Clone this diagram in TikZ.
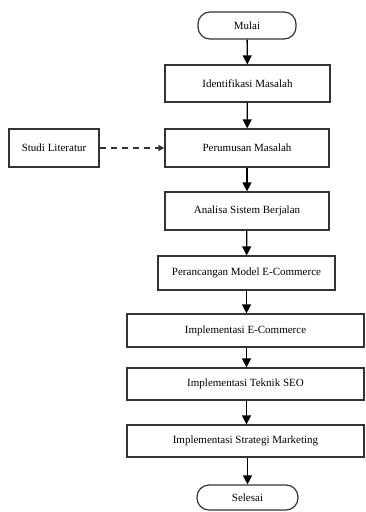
\documentclass[tikz,border=0pt]{standalone}
\usepackage{fontspec}
\setmainfont{Liberation Serif}
\usetikzlibrary{arrows.meta}
\begin{document}
\begin{tikzpicture}[x=1pt,y=-1pt,
  proc/.style={draw=black!80, line width=1.2pt, rectangle, inner sep=0pt, font=\fontsize{11pt}{13pt}\selectfont},
  term/.style={proc, rounded corners=12pt},
  flow/.style={draw=black, line width=1.3pt, -{Triangle[length=9pt,width=9pt]}},
  dflow/.style={draw=black!80, line width=1.2pt, dash pattern=on 6pt off 5pt, -{Triangle[length=6pt,width=6pt]}}]
\useasboundingbox (0,0) rectangle (366,512);
\node[term, minimum width=98pt, minimum height=27pt] (mulai) at (247,25.5) {Mulai};
\node[proc, minimum width=165pt, minimum height=37pt] (ident) at (247.5,83.5) {Identifikasi Masalah};
\node[proc, minimum width=164pt, minimum height=38pt] (rumus) at (247,148) {Perumusan Masalah};
\node[proc, minimum width=90pt, minimum height=38pt] (studi) at (54,148) {Studi Literatur};
\node[proc, minimum width=164pt, minimum height=38pt] (analisa) at (247,211) {Analisa Sistem Berjalan};
\node[proc, minimum width=177pt, minimum height=34pt] (rancang) at (246.5,273) {Perancangan Model E-Commerce};
\node[proc, minimum width=237pt, minimum height=33pt] (implec) at (245.5,330.5) {Implementasi E-Commerce};
\node[proc, minimum width=237pt, minimum height=32pt] (seo) at (245.5,384) {Implementasi Teknik SEO};
\node[proc, minimum width=237pt, minimum height=32pt] (mkt) at (245.5,441) {Implementasi Strategi Marketing};
\node[term, minimum width=101pt, minimum height=25pt] (selesai) at (247.5,497.5) {Selesai};
\draw[flow] (mulai) -- (ident);
\draw[flow] (ident) -- (rumus);
\draw[flow] (rumus) -- (analisa);
\draw[flow] (analisa) -- (rancang);
\draw[flow] (rancang.south) -- (rancang.south |- implec.north);
\draw[flow] (implec.south -| rancang.south) -- (rancang.south |- seo.north);
\draw[flow] (seo.south -| rancang.south) -- (rancang.south |- mkt.north);
\draw[flow] (mkt.south -| selesai.north) -- (selesai);
\draw[dflow] (studi) -- (rumus);
\end{tikzpicture}
\end{document}
